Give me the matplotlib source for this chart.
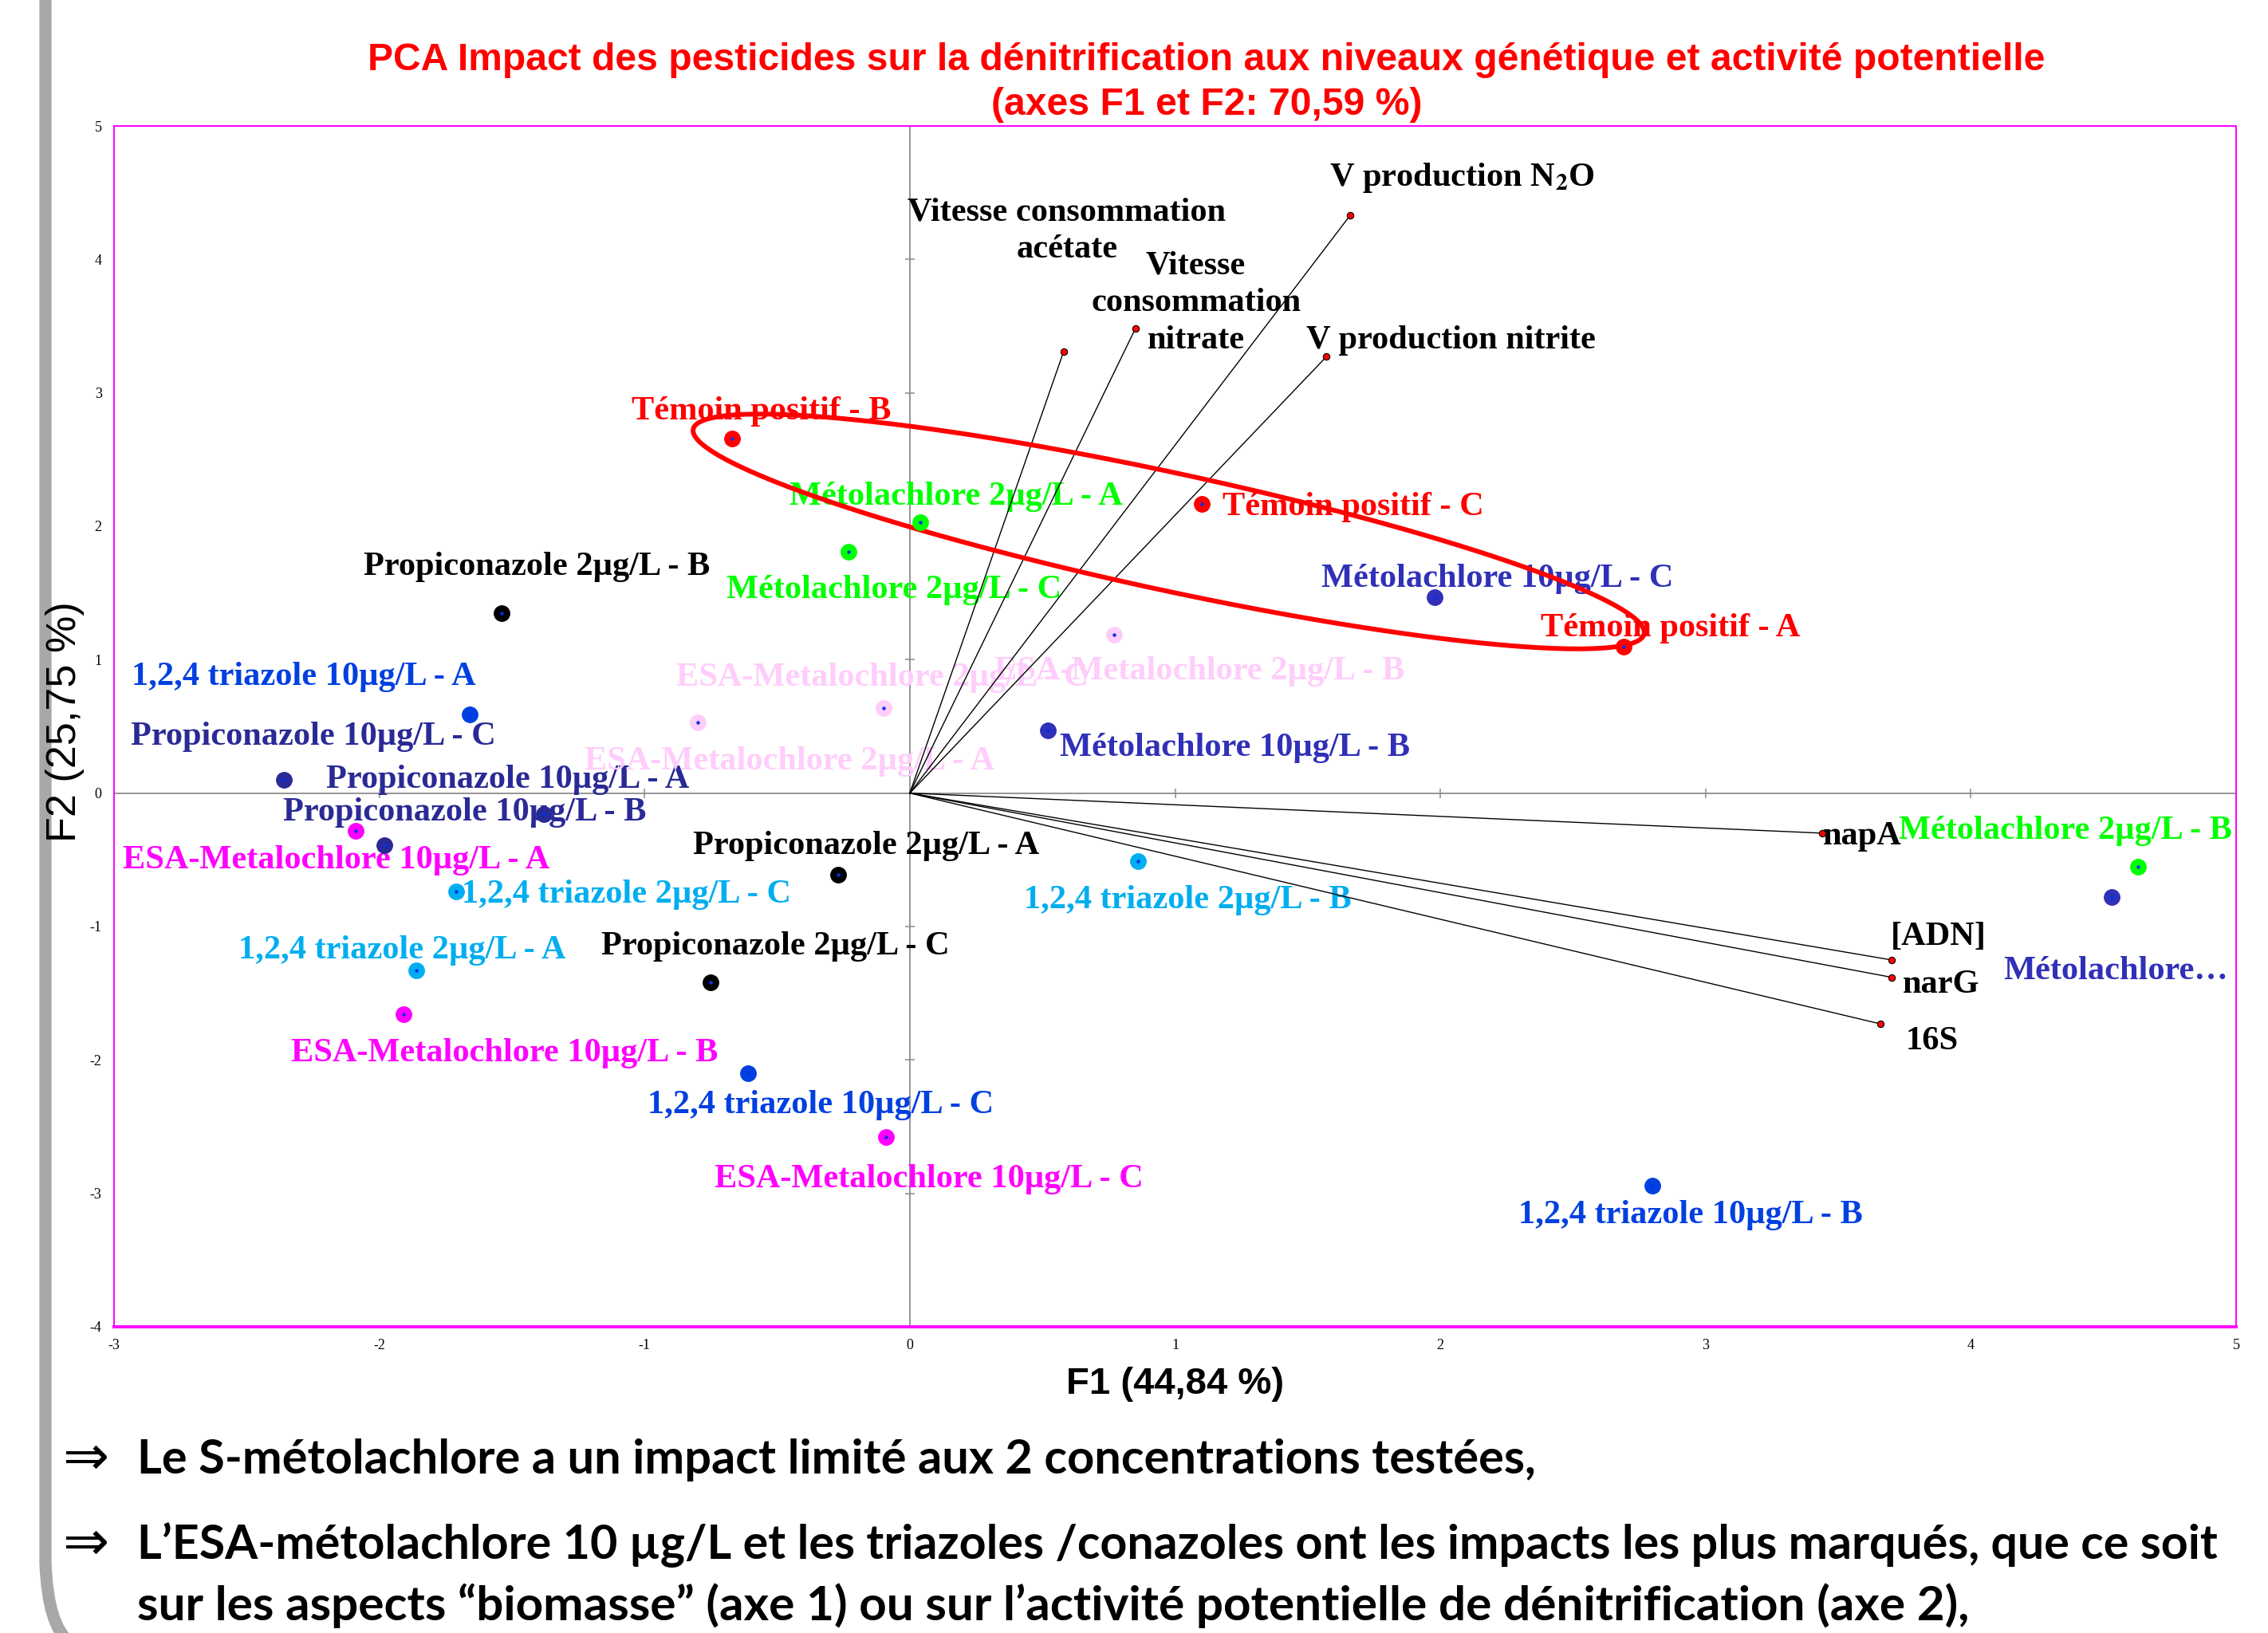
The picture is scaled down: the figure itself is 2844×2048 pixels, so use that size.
import numpy as np
import matplotlib
matplotlib.use('Agg')
import matplotlib.pyplot as plt
from matplotlib.path import Path
from matplotlib.patches import PathPatch

plt.rcParams['axes.unicode_minus'] = False
plt.rcParams['mathtext.fontset'] = 'stix'

# --- observations (scores F1 / F2) ---
obs_labels = [
    'Témoin positif - A', 'Témoin positif - B', 'Témoin positif - C',
    'Métolachlore 2µg/L - A', 'Métolachlore 2µg/L - B', 'Métolachlore 2µg/L - C',
    'Métolachlore…', 'Métolachlore 10µg/L - B', 'Métolachlore 10µg/L - C',
    'Propiconazole 2µg/L - A', 'Propiconazole 2µg/L - B', 'Propiconazole 2µg/L - C',
    'Propiconazole 10µg/L - A', 'Propiconazole 10µg/L - B', 'Propiconazole 10µg/L - C',
    '1,2,4 triazole 2µg/L - A', '1,2,4 triazole 2µg/L - B', '1,2,4 triazole 2µg/L - C',
    '1,2,4 triazole 10µg/L - A', '1,2,4 triazole 10µg/L - B', '1,2,4 triazole 10µg/L - C',
    'ESA-Metalochlore 2µg/L - A', 'ESA-Metalochlore 2µg/L - B', 'ESA-Metalochlore 2µg/L - C',
    'ESA-Metalochlore 10µg/L - A', 'ESA-Metalochlore 10µg/L - B', 'ESA-Metalochlore 10µg/L - C',
]
obs_group = ['temoin'] * 3 + ['meto2'] * 3 + ['meto10'] * 3 + ['prop2'] * 3 + ['prop10'] * 3 \
    + ['tri2'] * 3 + ['tri10'] * 3 + ['esa2'] * 3 + ['esa10'] * 3
obs_f1 = [2.69, -0.67, 1.10,
          0.04, 4.63, -0.23,
          4.53, 0.52, 1.98,
          -0.27, -1.54, -0.75,
          -1.38, -1.98, -2.36,
          -1.86, 0.86, -1.71,
          -1.66, 2.80, -0.61,
          -0.80, 0.77, -0.10,
          -2.09, -1.91, -0.09]
obs_f2 = [1.10, 2.66, 2.17,
          2.03, -0.55, 1.81,
          -0.78, 0.47, 1.47,
          -0.61, 1.35, -1.42,
          -0.16, -0.39, 0.10,
          -1.33, -0.51, -0.74,
          0.59, -2.94, -2.10,
          0.53, 1.19, 0.64,
          -0.28, -1.66, -2.58]

# --- variables (correlations, arrows from origin) ---
var_labels = ['Vitesse consommation\nacétate', 'Vitesse\nconsommation\nnitrate',
              r'V production N$_\mathbf{2}$O', 'V production nitrite',
              'napA', '[ADN]', 'narG', '16S']
var_f1 = [0.58, 0.85, 1.66, 1.57, 3.44, 3.70, 3.70, 3.66]
var_f2 = [3.31, 3.48, 4.33, 3.27, -0.30, -1.25, -1.38, -1.73]

# --- ellipse around the Témoin positif group: centre + conjugate semi-diameters ---
ell_center = (0.976, 1.961)
ell_axis_a = (1.793, -0.756)
ell_axis_b = (0.0, 0.450)

xticks = [-3, -2, -1, 0, 1, 2, 3, 4, 5]
yticks = [-4, -3, -2, -1, 0, 1, 2, 3, 4, 5]

# styles
colors = {'temoin': '#ff0000', 'meto2': '#00ff00', 'meto10': '#3030b8',
          'prop2': '#000000', 'prop10': '#2a2a96', 'tri2': '#00aeef',
          'tri10': '#0040e0', 'esa2': '#ffcdfb', 'esa10': '#ff00ff'}
# label offsets in pixels (x right, y up)
obs_offsets = [(59, 27), (37, 38), (190, 0),
               (45, 36), (-91, 49), (57, -44),
               (5, -89), (235, -18), (78, 27),
               (35, 40), (44, 62), (81, 49),
               (-45, 47), (100, 45), (37, 58),
               (-18, 29), (62, -45), (213, 0),
               (-208, 51), (48, -33), (91, -36),
               (115, -45), (107, -42), (-1, 42),
               (-24, -33), (127, -45), (54, -49)]
var_offsets = [(4, 155), (76, 36), (140, 51), (156, 24), (50, 0), (59, 33), (63, -5), (64, -18)]

W, H = 2844, 2048
fig = plt.figure(figsize=(W / 100, H / 100), dpi=100)
ax = fig.add_axes([143 / W, 1 - 1664 / H, (2804 - 143) / W, (1664 - 158) / H])
ax.set_xlim(-3, 5)
ax.set_ylim(-4, 5)

for s in ax.spines.values():
    s.set_color('#ff00ff')
    s.set_linewidth(1.4)
ax.spines['bottom'].set_linewidth(2.8)

ax.set_xticks(xticks)
ax.set_yticks(yticks)
ax.tick_params(length=0, labelsize=13, pad=11)
for lab in ax.get_xticklabels() + ax.get_yticklabels():
    lab.set_family('Liberation Serif')

# axis lines through origin with small ticks
ax.axhline(0, color='#8c8c8c', lw=1.3, zorder=1)
ax.axvline(0, color='#8c8c8c', lw=1.3, zorder=1)
ax.plot(np.zeros(len(yticks)), yticks, ls='none', marker='_', ms=9, mew=1.1, color='#8c8c8c', zorder=1)
ax.plot(xticks, np.zeros(len(xticks)), ls='none', marker='|', ms=9, mew=1.1, color='#8c8c8c', zorder=1)

ax.set_xlabel('F1 (44,84 %)', fontsize=34, fontweight='bold', family='Liberation Sans', labelpad=13)
fig.text(82 / W, 1 - 905 / H, 'F2 (25,75 %)', rotation=90, ha='center', va='center',
         fontsize=37.5, family='Liberation Sans')

# variable vectors
for x, y in zip(var_f1, var_f2):
    ax.plot([0, x], [0, y], color='black', lw=1.0, zorder=3)
ax.plot(var_f1, var_f2, ls='none', marker='o', ms=6, mfc='#ff0000', mec='black', mew=0.8, zorder=6)
for lab, x, y, off in zip(var_labels, var_f1, var_f2, var_offsets):
    ax.annotate(lab, (x, y), xytext=(off[0], off[1] - 4), textcoords='offset pixels',
                ha='center', va='center', fontsize=30.5, fontweight='bold',
                family='Liberation Serif', color='black', linespacing=1.3, zorder=2)

# ellipse
t = np.linspace(0, 2 * np.pi, 400)
ex = ell_center[0] + np.cos(t) * ell_axis_a[0] + np.sin(t) * ell_axis_b[0]
ey = ell_center[1] + np.cos(t) * ell_axis_a[1] + np.sin(t) * ell_axis_b[1]
ax.plot(ex, ey, color='#ff0000', lw=4.3, zorder=4)

# observations
for g, c in colors.items():
    idx = [i for i, gg in enumerate(obs_group) if gg == g]
    ax.plot([obs_f1[i] for i in idx], [obs_f2[i] for i in idx], ls='none', marker='o',
            ms=14, mfc=c, mec=c, zorder=5)
ax.plot(obs_f1, obs_f2, ls='none', marker='o', ms=2.2, mfc='#0033ee', mec='#0033ee', zorder=6)
for lab, g, x, y, off in zip(obs_labels, obs_group, obs_f1, obs_f2, obs_offsets):
    ax.annotate(lab, (x, y), xytext=(off[0], off[1] - 4), textcoords='offset pixels',
                ha='center', va='center', fontsize=30.5, fontweight='bold',
                family='Liberation Serif', color=colors[g], zorder=2)

# title
t1 = fig.text(1513 / W, 1 - 76 / H,
              'PCA Impact des pesticides sur la dénitrification aux niveaux génétique et activité potentielle',
              ha='center', va='center', color='#ff0000', fontsize=35, fontweight='bold', family='Liberation Sans')
t2 = fig.text(1513 / W, 1 - 131 / H, '(axes F1 et F2: 70,59 %)',
              ha='center', va='center', color='#ff0000', fontsize=35, fontweight='bold', family='Liberation Sans')

# bottom comments
bfont = dict(fontsize=44, fontweight='bold', family='Lato', color='black', va='center', ha='left')
b1 = fig.text(172 / W, 1 - 1831 / H, 'Le S-métolachlore a un impact limité aux 2 concentrations testées,', **bfont)
b2 = fig.text(172 / W, 1 - 1938 / H,
              'L’ESA-métolachlore 10 µg/L et les triazoles /conazoles ont les impacts les plus marqués, que ce soit',
              **bfont)
b3 = fig.text(172 / W, 1 - 2014 / H,
              'sur les aspects “biomasse” (axe 1) ou sur l’activité potentielle de dénitrification (axe 2),', **bfont)
for yy in (1829, 1936):
    fig.text(107 / W, 1 - yy / H, '⇒', ha='center', va='center', fontsize=50, family='DejaVu Sans')

# match reference text widths
renderer = fig.canvas.get_renderer()
for txt, wpx in ((t1, 2101), (t2, 541), (b1, 1754), (b2, 2612), (b3, 2299)):
    w = txt.get_window_extent(renderer).width
    txt.set_fontsize(txt.get_fontsize() * wpx / w)

# grey slide border on the left
verts = [(57 / W, 1.0), (57 / W, 1 - 1960 / H), (60 / W, 1 - 2040 / H), (88 / W, 1 - 2060 / H)]
codes = [Path.MOVETO, Path.LINETO, Path.CURVE3, Path.CURVE3]
fig.add_artist(PathPatch(Path(verts, codes), fc='none', ec='#a8a8a8', lw=11,
                         transform=fig.transFigure))

fig.savefig('out.png', dpi=100)
